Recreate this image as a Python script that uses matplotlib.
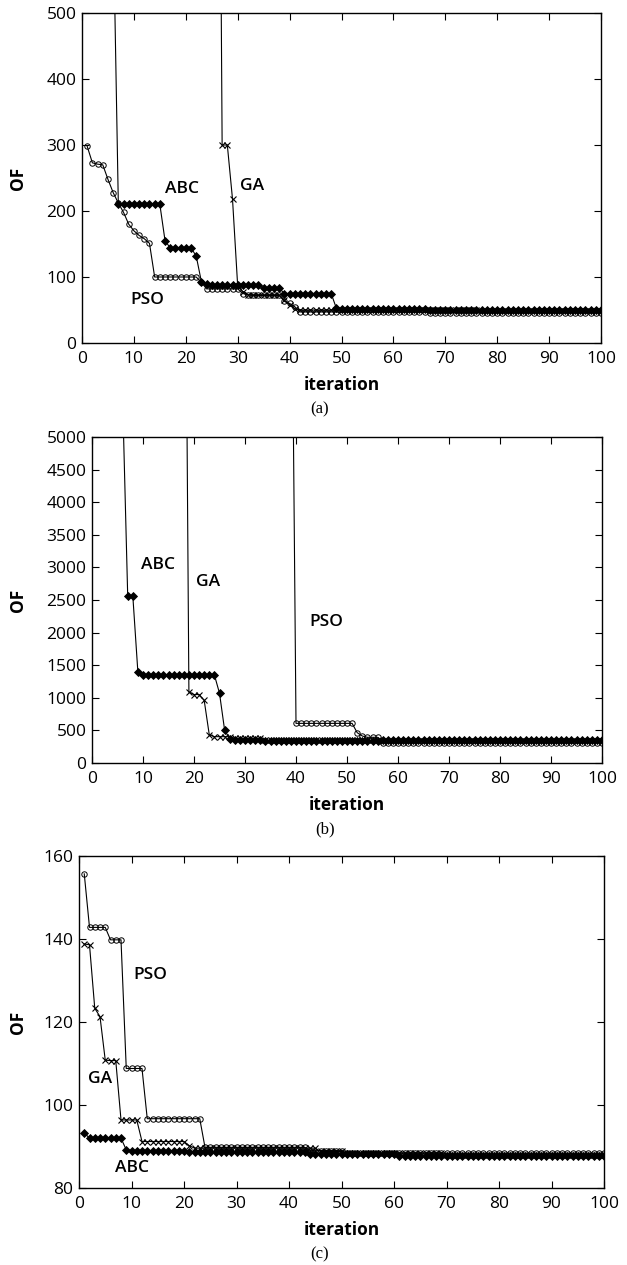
import matplotlib
matplotlib.use('Agg')
import matplotlib.pyplot as plt

iterations = list(range(1, 101))

# ---------- panel (a) ----------
abc_a = [3000, 2500, 2000, 1500, 1000, 650, 210, 210, 210, 210,
         210, 210, 210, 210, 210, 155, 144, 144, 144, 144,
         144, 132, 93, 89, 88, 88, 88, 88, 88, 88,
         88, 88, 88, 88, 83, 83, 83, 83, 75, 75,
         75, 75, 75, 75, 75, 75, 75, 75, 53, 51,
         51, 51, 51, 51, 51, 51, 51, 51, 51, 51,
         51, 51, 51, 51, 51, 51, 50, 50, 50, 50,
         50, 50, 50, 50, 50, 50, 50, 50, 50, 50,
         50, 50, 50, 50, 50, 50, 50, 50, 50, 50,
         50, 50, 50, 50, 50, 50, 50, 50, 50, 50]
ga_a = [1500, 1500, 1500, 1500, 1500, 1500, 1500, 1500, 1500, 1500,
        1500, 1500, 1500, 1500, 1500, 1500, 1500, 1500, 1500, 1500,
        1500, 1500, 1500, 1500, 1500, 1500, 300, 300, 218, 86,
        78, 73, 72, 72, 72, 72, 72, 72, 65, 58,
        52, 50, 50, 50, 50, 50, 50, 50, 50, 50,
        50, 50, 50, 50, 50, 50, 50, 50, 50, 50,
        50, 50, 50, 50, 50, 50, 50, 50, 50, 50,
        50, 50, 50, 50, 50, 50, 48, 48, 48, 48,
        48, 48, 48, 48, 48, 48, 48, 48, 48, 48,
        48, 48, 48, 48, 48, 48, 48, 48, 48, 48]
pso_a = [298, 273, 271, 270, 248, 228, 212, 198, 180, 170,
         163, 158, 151, 100, 100, 100, 100, 100, 100, 100,
         100, 100, 92, 82, 82, 82, 82, 82, 82, 82,
         75, 73, 73, 73, 73, 73, 73, 73, 63, 60,
         55, 47, 47, 47, 47, 47, 47, 47, 47, 47,
         47, 47, 47, 47, 47, 47, 47, 47, 47, 47,
         47, 47, 47, 47, 47, 47, 46, 46, 46, 46,
         46, 46, 46, 46, 46, 46, 46, 46, 46, 46,
         46, 46, 46, 46, 46, 46, 46, 46, 46, 46,
         46, 46, 46, 46, 46, 46, 46, 46, 46, 46]

# ---------- panel (b) ----------
abc_b = [9000, 8500, 8000, 7500, 7000, 5600, 2566, 2566, 1390, 1350,
         1350, 1350, 1350, 1350, 1350, 1350, 1350, 1350, 1350, 1350,
         1350, 1350, 1350, 1350, 1070, 506, 370, 350, 350, 350,
         350, 350, 350, 340, 340, 340, 340, 340, 340, 340,
         340, 340, 340, 340, 340, 340, 340, 340, 340, 340,
         340, 340, 340, 340, 340, 340, 350, 350, 350, 350,
         350, 350, 350, 350, 350, 350, 350, 350, 350, 350,
         350, 350, 350, 350, 350, 350, 350, 350, 350, 350,
         350, 350, 350, 350, 350, 350, 350, 350, 350, 350,
         350, 350, 350, 350, 350, 350, 350, 350, 350, 350]
ga_b = [12000, 12000, 12000, 12000, 12000, 12000, 12000, 12000, 12000, 12000,
        12000, 12000, 12000, 12000, 12000, 12000, 12000, 12000, 1090, 1050,
        1050, 960, 430, 404, 404, 404, 404, 380, 380, 380,
        380, 380, 380, 350, 350, 350, 350, 350, 350, 350,
        350, 350, 350, 350, 350, 350, 350, 350, 350, 350,
        350, 350, 350, 350, 350, 350, 330, 330, 330, 330,
        330, 330, 330, 330, 330, 330, 330, 330, 330, 330,
        330, 330, 330, 330, 330, 330, 330, 330, 330, 330,
        330, 330, 330, 330, 330, 330, 330, 330, 330, 330,
        330, 330, 330, 330, 330, 330, 330, 330, 330, 330]
pso_b = [9400, 9400, 9400, 9400, 9400, 9400, 9400, 9400, 9400, 9400,
         9400, 9400, 9400, 9400, 9400, 9400, 9400, 9400, 9400, 9400,
         9400, 9400, 9400, 9400, 9400, 9400, 9400, 9400, 9400, 9400,
         9400, 9400, 9400, 9400, 9400, 9400, 9400, 9400, 9400, 608,
         608, 608, 608, 608, 608, 608, 608, 608, 608, 608,
         608, 465, 414, 394, 394, 394, 310, 310, 310, 310,
         310, 310, 310, 310, 310, 310, 310, 310, 310, 310,
         310, 310, 310, 310, 310, 310, 310, 310, 310, 310,
         310, 310, 310, 310, 310, 310, 310, 310, 310, 310,
         310, 310, 310, 310, 310, 310, 310, 310, 310, 310]

# ---------- panel (c) ----------
abc_c = [93.3, 92.0, 92.0, 92.0, 92.0, 92.0, 92.0, 92.0, 89.2, 89.0,
         89.0, 89.0, 89.0, 89.0, 89.0, 89.0, 89.0, 89.0, 89.0, 89.0,
         88.6, 88.6, 88.6, 88.6, 88.6, 88.6, 88.6, 88.6, 88.6, 88.6,
         88.6, 88.6, 88.6, 88.6, 88.6, 88.6, 88.6, 88.6, 88.6, 88.6,
         88.6, 88.6, 88.6, 88.3, 88.3, 88.3, 88.3, 88.3, 88.3, 88.3,
         88.3, 88.3, 88.3, 88.3, 88.3, 88.3, 88.3, 88.3, 88.3, 88.3,
         87.6, 87.6, 87.6, 87.6, 87.6, 87.6, 87.6, 87.6, 87.6, 87.6,
         87.6, 87.6, 87.6, 87.6, 87.6, 87.6, 87.6, 87.6, 87.6, 87.6,
         87.6, 87.6, 87.6, 87.6, 87.6, 87.6, 87.6, 87.6, 87.6, 87.6,
         87.6, 87.6, 87.6, 87.6, 87.6, 87.6, 87.6, 87.6, 87.6, 87.6]
ga_c = [138.8, 138.6, 123.3, 121.3, 110.8, 110.7, 110.7, 96.4, 96.4, 96.4,
        96.4, 91.2, 91.2, 91.2, 91.2, 91.2, 91.2, 91.2, 91.2, 91.2,
        90.2, 89.6, 89.6, 89.6, 89.6, 89.6, 89.6, 89.6, 89.6, 89.6,
        89.6, 89.6, 89.6, 89.6, 89.6, 89.6, 89.6, 89.6, 89.6, 89.6,
        89.6, 89.6, 89.6, 89.6, 89.6, 88.8, 88.8, 88.8, 88.8, 88.8,
        88.4, 88.4, 88.4, 88.4, 88.4, 88.4, 88.4, 88.4, 88.4, 88.4,
        88.4, 88.4, 88.4, 88.4, 88.4, 88.4, 88.4, 88.4, 88.4, 88.0,
        88.0, 88.0, 88.0, 88.0, 88.0, 88.0, 88.0, 88.0, 88.0, 88.0,
        88.0, 88.0, 88.0, 88.0, 88.0, 88.0, 88.0, 88.0, 88.0, 88.0,
        88.0, 88.0, 88.0, 88.0, 88.0, 88.0, 88.0, 88.0, 88.0, 88.0]
pso_c = [155.7, 142.8, 142.8, 142.8, 142.8, 139.8, 139.8, 139.8, 108.8, 108.8,
         108.8, 108.8, 96.7, 96.7, 96.7, 96.7, 96.7, 96.7, 96.7, 96.7,
         96.7, 96.7, 96.7, 89.8, 89.8, 89.8, 89.8, 89.8, 89.8, 89.8,
         89.8, 89.8, 89.8, 89.8, 89.8, 89.8, 89.8, 89.8, 89.8, 89.8,
         89.8, 89.8, 89.8, 89.0, 89.0, 89.0, 89.0, 89.0, 89.0, 89.0,
         88.4, 88.4, 88.4, 88.4, 88.4, 88.4, 88.4, 88.4, 88.4, 88.4,
         88.4, 88.4, 88.4, 88.4, 88.4, 88.4, 88.4, 88.4, 88.4, 88.4,
         88.4, 88.4, 88.4, 88.4, 88.4, 88.4, 88.4, 88.4, 88.4, 88.4,
         88.4, 88.4, 88.4, 88.4, 88.4, 88.4, 88.4, 88.4, 88.4, 88.4,
         88.4, 88.4, 88.4, 88.4, 88.4, 88.4, 88.4, 88.4, 88.4, 88.4]

x_ticks = [0, 10, 20, 30, 40, 50, 60, 70, 80, 90, 100]
y_ticks_a = [0, 100, 200, 300, 400, 500]
y_ticks_b = [0, 500, 1000, 1500, 2000, 2500, 3000, 3500, 4000, 4500, 5000]
y_ticks_c = [80, 100, 120, 140, 160]

labels_a = [("ABC", 19.3, 234), ("GA", 32.8, 238), ("PSO", 12.6, 65)]
labels_b = [("ABC", 13.0, 3040), ("GA", 22.8, 2770), ("PSO", 45.9, 2160)]
labels_c = [("PSO", 13.6, 131.3), ("GA", 4.1, 106.3), ("ABC", 10.1, 84.8)]

plt.rcParams['font.family'] = ['Open Sans', 'DejaVu Sans']

W, H = 627, 1265
fig = plt.figure(figsize=(W / 100, H / 100), dpi=100)

panels = [
    ((82, 601, 13, 343), (abc_a, ga_a, pso_a), y_ticks_a, labels_a, "(a)"),
    ((92, 602, 437, 763), (abc_b, ga_b, pso_b), y_ticks_b, labels_b, "(b)"),
    ((79, 604, 856, 1188), (abc_c, ga_c, pso_c), y_ticks_c, labels_c, "(c)"),
]

for (l, r, t, b), (abc, ga, pso), yt, labs, cap in panels:
    ax = fig.add_axes([l / W, 1 - b / H, (r - l) / W, (b - t) / H])
    lw = 0.8
    ax.plot(iterations, abc, color='black', lw=lw, marker='D', markersize=3.6,
            markerfacecolor='black', markeredgecolor='black', markeredgewidth=0.6)
    ax.plot(iterations, ga, color='black', lw=lw, marker='x', markersize=4.3,
            markeredgewidth=0.8)
    ax.plot(iterations, pso, color='black', lw=lw, marker='o', markersize=3.9,
            markerfacecolor='none', markeredgecolor='black', markeredgewidth=0.7)
    ax.set_xlim(0, 100)
    ax.set_ylim(yt[0], yt[-1])
    ax.set_xticks(x_ticks)
    ax.set_yticks(yt)
    ax.tick_params(direction='in', top=True, right=True, length=5, width=0.8,
                   labelsize=12.5)
    ax.tick_params(axis='x', pad=6)
    ax.tick_params(axis='y', pad=4)
    for s in ax.spines.values():
        s.set_linewidth(1.0)
    for txt, xv, yv in labs:
        ax.text(xv, yv, txt, fontsize=12.5, fontweight='semibold',
                ha='center', va='center')
    yc = (t + b) / 2
    fig.text(18 / W, 1 - yc / H, "OF", rotation=90, fontsize=12.5,
             fontweight='bold', ha='center', va='center')
    fig.text(((l + r) / 2) / W, 1 - (b + 42) / H, "iteration", fontsize=12.5,
             fontweight='bold', ha='center', va='center')
    fig.text(((l + r) / 2 - 22) / W, 1 - (b + 66) / H, cap, fontsize=12,
             family=['Liberation Serif', 'DejaVu Serif'], ha='center', va='center')

fig.savefig('out.png', dpi=100)
